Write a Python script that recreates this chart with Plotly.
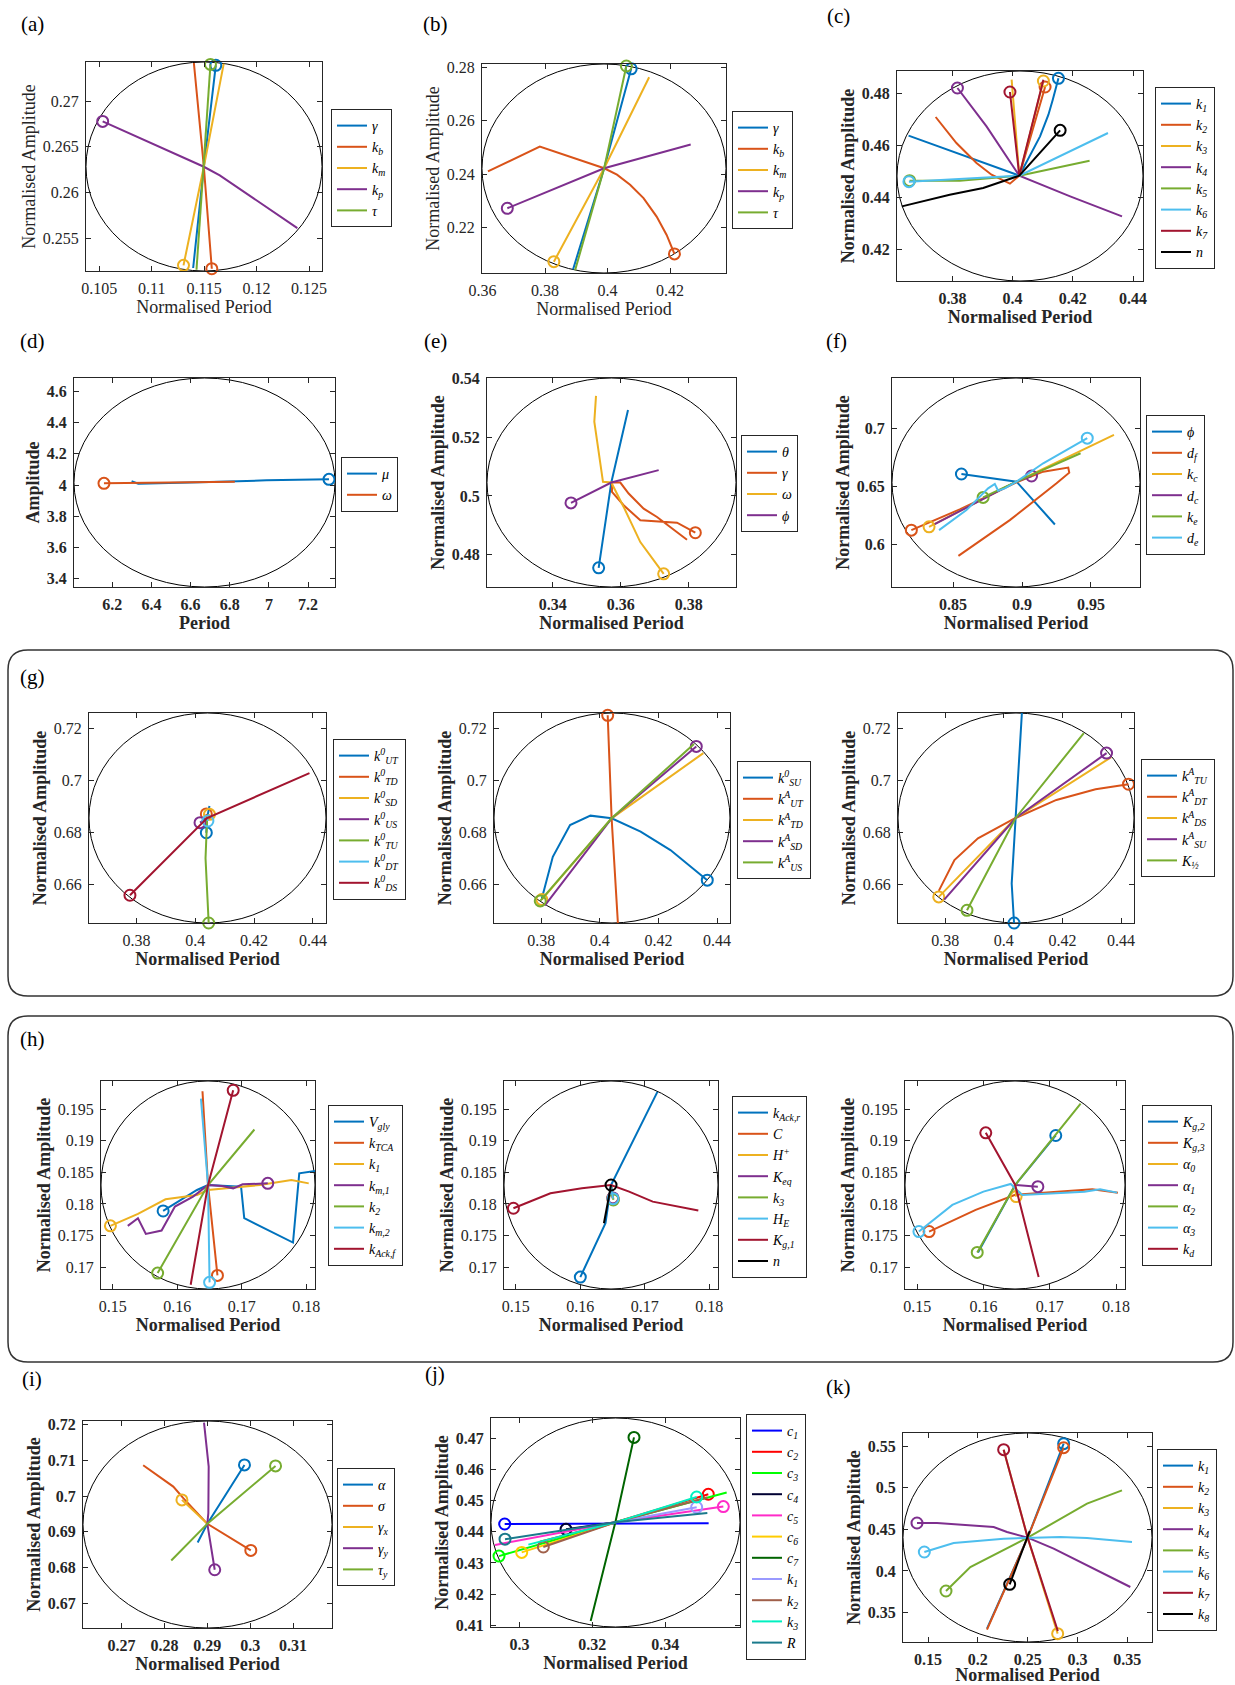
import plotly.graph_objects as go

W, H = 1235, 1685

BLUE, ORANGE, YELLOW, PURPLE = '#0072BD', '#D95319', '#EDB120', '#7E2F8E'
GREEN, LBLUE, DRED, BLACK = '#77AC30', '#4DBEEE', '#A2142F', '#000000'
M8 = [BLUE, ORANGE, YELLOW, PURPLE, GREEN, LBLUE, DRED, BLACK]

# ================= DATA =================
# (a)
A_LABELS = ['γ', 'k<sub>b</sub>', 'k<sub>m</sub>', 'k<sub>p</sub>', 'τ']
A_X = [[0.11395, 0.11497, 0.11611], [0.11402, 0.11497, 0.11573], [0.11687, 0.11497, 0.11303],
       [0.12389, 0.11649, 0.11497, 0.10532], [0.11427, 0.11497, 0.1156]]
A_Y = [[0.25172, 0.2628, 0.27391], [0.27416, 0.2628, 0.25164], [0.27409, 0.2628, 0.25201],
       [0.25609, 0.26186, 0.2628, 0.26777], [0.25153, 0.2628, 0.27401]]
A_XRANGE, A_YRANGE = [0.10373, 0.12624], [0.25139, 0.27427]
A_XTICKS, A_YTICKS = [0.105, 0.11, 0.115, 0.12, 0.125], [0.255, 0.26, 0.265, 0.27]

# (b)
B_LABELS = ['γ', 'k<sub>b</sub>', 'k<sub>m</sub>', 'k<sub>p</sub>', 'τ']
B_X = [[0.38894, 0.3989, 0.40755],
       [0.3617, 0.3783, 0.3989, 0.4030, 0.4072, 0.4115, 0.4157, 0.4189, 0.4214],
       [0.4133, 0.3989, 0.3828], [0.4266, 0.3989, 0.3679], [0.3896, 0.3989, 0.4060]]
B_Y = [[0.2043, 0.2422, 0.27946],
       [0.2410, 0.2503, 0.2422, 0.2398, 0.2360, 0.2310, 0.2241, 0.2172, 0.2101],
       [0.2763, 0.2422, 0.2072], [0.2511, 0.2422, 0.2272], [0.2040, 0.2422, 0.2805]]
B_XRANGE, B_YRANGE = [0.3598, 0.4379], [0.20296, 0.28125]
B_XTICKS, B_YTICKS = [0.36, 0.38, 0.4, 0.42], [0.22, 0.24, 0.26, 0.28]

# (c)
C_LABELS = ['k<sub>1</sub>', 'k<sub>2</sub>', 'k<sub>3</sub>', 'k<sub>4</sub>', 'k<sub>5</sub>',
            'k<sub>6</sub>', 'k<sub>7</sub>', 'n']
C_X = [[0.36544, 0.40222, 0.40911, 0.41189, 0.41333, 0.41522],
       [0.37444, 0.38133, 0.388, 0.393, 0.39911, 0.40222, 0.41078],
       [0.39967, 0.40222, 0.41022],
       [0.43633, 0.41911, 0.40222, 0.39133, 0.38167],
       [0.42556, 0.40222, 0.38244, 0.36578],
       [0.43167, 0.40222, 0.36556],
       [0.41022, 0.40222, 0.39911],
       [0.36322, 0.37911, 0.39022, 0.40222, 0.41578]]
C_Y = [[0.46359, 0.44821, 0.46333, 0.47167, 0.47744, 0.48564],
       [0.47077, 0.46077, 0.45308, 0.44859, 0.44513, 0.44821, 0.48231],
       [0.48513, 0.44821, 0.48462],
       [0.43256, 0.44026, 0.44821, 0.46718, 0.48192],
       [0.45397, 0.44821, 0.44628, 0.44628],
       [0.46462, 0.44821, 0.4459],
       [0.48513, 0.44821, 0.48038],
       [0.43641, 0.4409, 0.44346, 0.44821, 0.46564]]
C_XRANGE, C_YRANGE = [0.3616, 0.4433], [0.4077, 0.48846]
C_XTICKS, C_YTICKS = [0.38, 0.4, 0.42, 0.44], [0.42, 0.44, 0.46, 0.48]

# (d)
D_LABELS = ['μ', 'ω']
D_X = [[6.2986, 6.333, 6.648, 6.988, 7.307], [6.8259, 6.1575]]
D_Y = [[4.0236, 4.0086, 4.017, 4.030, 4.0364], [4.0214, 4.0107]]
D_XRANGE, D_YRANGE = [6.0044, 7.3378], [3.346, 4.686]
D_XTICKS, D_YTICKS = [6.2, 6.4, 6.6, 6.8, 7, 7.2], [3.4, 3.6, 3.8, 4, 4.2, 4.4, 4.6]

# (e)
E_LABELS = ['θ', 'γ', 'ω', 'ϕ']
E_X = [[0.36216, 0.35873, 0.35725, 0.35353],
       [0.37951, 0.37461, 0.37069, 0.36676, 0.36235, 0.3599, 0.35745, 0.35745, 0.36088,
        0.36578, 0.37118, 0.37657, 0.38196],
       [0.35275, 0.35225, 0.3548, 0.35725, 0.36088, 0.36578, 0.37265],
       [0.37118, 0.35725, 0.34539]]
E_Y = [[0.52931, 0.5122, 0.50456, 0.47548],
       [0.48506, 0.48939, 0.49281, 0.49567, 0.5008, 0.50456, 0.50456, 0.50137, 0.49681,
        0.49167, 0.49133, 0.49087, 0.48745],
       [0.53411, 0.52532, 0.50479, 0.50456, 0.49624, 0.48426, 0.47342],
       [0.50878, 0.50456, 0.4976]]
E_XRANGE, E_YRANGE = [0.32069, 0.39392], [0.46894, 0.5402]
E_XTICKS, E_YTICKS = [0.34, 0.36, 0.38], [0.48, 0.5, 0.52, 0.54]

# (f)
F_LABELS = ['ϕ', 'd<sub>f</sub>', 'k<sub>c</sub>', 'd<sub>c</sub>', 'k<sub>e</sub>', 'd<sub>e</sub>']
F_X = [[0.92385, 0.896, 0.85605],
       [0.85387, 0.89116, 0.92506, 0.93426, 0.93354, 0.91538, 0.896, 0.85484, 0.81973],
       [0.96671, 0.896, 0.83257],
       [0.83668, 0.896, 0.9069],
       [0.94249, 0.896, 0.87179],
       [0.83983, 0.85969, 0.87542, 0.88027, 0.88269, 0.88753, 0.896, 0.91538, 0.94734]]
F_Y = [[0.61753, 0.65431, 0.66092],
       [0.59052, 0.62126, 0.65287, 0.66207, 0.66638, 0.66293, 0.65374, 0.63046, 0.61264],
       [0.69454, 0.65431, 0.61552],
       [0.61782, 0.65431, 0.6592],
       [0.67874, 0.65431, 0.6408],
       [0.61264, 0.62989, 0.64856, 0.6523, 0.64655, 0.64856, 0.65431, 0.67011, 0.69167]]
F_XRANGE, F_YRANGE = [0.80569, 0.98559], [0.5638, 0.74339]
F_XTICKS, F_YTICKS = [0.85, 0.9, 0.95], [0.6, 0.65, 0.7]

# (g) shared axes
G_XRANGE, G_YRANGE = [0.36386, 0.44444], [0.64503, 0.72606]
G_XTICKS, G_YTICKS = [0.38, 0.4, 0.42, 0.44], [0.66, 0.68, 0.7, 0.72]
G1_LABELS = ['k<sup>0</sup><sub>UT</sub>', 'k<sup>0</sup><sub>TD</sub>', 'k<sup>0</sup><sub>SD</sub>',
             'k<sup>0</sup><sub>US</sub>', 'k<sup>0</sup><sub>TU</sub>', 'k<sup>0</sup><sub>DT</sub>',
             'k<sup>0</sup><sub>DS</sub>']
G1_X = [[0.40482, 0.40402, 0.40375], [0.40402, 0.40375], [0.40402, 0.40482], [0.40402, 0.40161],
        [0.40402, 0.40348, 0.40455], [0.40402, 0.40428], [0.43882, 0.40402, 0.37778]]
G1_Y = [[0.69019, 0.68555, 0.67987], [0.68555, 0.6871], [0.68555, 0.68697], [0.68555, 0.68374],
        [0.68555, 0.67, 0.64503], [0.68555, 0.68439], [0.70284, 0.68555, 0.65574]]
G2_LABELS = ['k<sup>0</sup><sub>SU</sub>', 'k<sup>A</sup><sub>UT</sub>', 'k<sup>A</sup><sub>TD</sub>',
             'k<sup>A</sup><sub>SD</sub>', 'k<sup>A</sup><sub>US</sub>']
G2_X = [[0.38019, 0.38394, 0.38983, 0.39679, 0.40402, 0.41392, 0.4241, 0.43668],
        [0.40616, 0.40402, 0.40268], [0.43534, 0.40402, 0.38019],
        [0.38126, 0.40402, 0.43293], [0.43213, 0.40402, 0.37965]]
G2_Y = [[0.65445, 0.67058, 0.68284, 0.68645, 0.68542, 0.68026, 0.67316, 0.66155],
        [0.64503, 0.68542, 0.72516], [0.71058, 0.68542, 0.65406],
        [0.65187, 0.68542, 0.71316], [0.71406, 0.68542, 0.65355]]
G3_LABELS = ['k<sup>A</sup><sub>TU</sub>', 'k<sup>A</sup><sub>DT</sub>', 'k<sup>A</sup><sub>DS</sub>',
             'k<sup>A</sup><sub>SU</sub>', 'K<sub>½</sub>']
G3_X = [[0.40616, 0.40509, 0.40402, 0.40268, 0.40348],
        [0.37778, 0.38313, 0.39116, 0.40402, 0.41794, 0.43133, 0.44257],
        [0.43668, 0.40402, 0.37778], [0.37965, 0.40402, 0.43507], [0.42731, 0.40402, 0.38742]]
G3_Y = [[0.72606, 0.70542, 0.68555, 0.66026, 0.64503],
        [0.65742, 0.66929, 0.67768, 0.68555, 0.69252, 0.69665, 0.69858],
        [0.70903, 0.68555, 0.6551], [0.65406, 0.68555, 0.71058], [0.71832, 0.68555, 0.64994]]

# (h) shared axes
H_XRANGE, H_YRANGE = [0.14817, 0.18134], [0.16653, 0.19947]
H_XTICKS, H_YTICKS = [0.15, 0.16, 0.17, 0.18], [0.17, 0.175, 0.18, 0.185, 0.19, 0.195]
H1_LABELS = ['V<sub>gly</sub>', 'k<sub>TCA</sub>', 'k<sub>1</sub>', 'k<sub>m,1</sub>', 'k<sub>2</sub>',
             'k<sub>m,2</sub>', 'k<sub>Ack,f</sub>']
H1_X = [[0.18134, 0.1789, 0.17793, 0.17037, 0.16988, 0.16476, 0.16305, 0.15878, 0.1578],
        [0.1639, 0.16476, 0.16622],
        [0.18037, 0.17768, 0.1728, 0.16476, 0.16305, 0.15817, 0.1539, 0.14963],
        [0.15232, 0.1539, 0.15512, 0.15756, 0.15963, 0.16244, 0.16476, 0.16695, 0.16866, 0.17012, 0.17402],
        [0.17195, 0.16476, 0.15695], [0.16366, 0.16476, 0.165], [0.16207, 0.16476, 0.16866]]
H1_Y = [[0.18521, 0.18484, 0.17389, 0.17774, 0.18274, 0.183, 0.18221, 0.17958, 0.17889],
        [0.19784, 0.183, 0.16868],
        [0.18326, 0.18379, 0.183, 0.18221, 0.18142, 0.18074, 0.17842, 0.17653],
        [0.17653, 0.17774, 0.17526, 0.17579, 0.17958, 0.18116, 0.183, 0.18284, 0.18247, 0.18311, 0.18326],
        [0.19179, 0.183, 0.16905], [0.19668, 0.183, 0.16758], [0.16721, 0.183, 0.198]]
H2_LABELS = ['k<sub>Ack,r</sub>', 'C', 'H<sup>+</sup>', 'K<sub>eq</sub>', 'k<sub>3</sub>', 'H<sub>E</sub>',
             'K<sub>g,1</sub>', 'n']
H2_X = [[0.17195, 0.16476, 0.1639, 0.16], [0.16476, 0.165], [0.16476, 0.16512], [0.16476, 0.16506],
        [0.16476, 0.16512], [0.16476, 0.16506],
        [0.17829, 0.17122, 0.16756, 0.16476, 0.16024, 0.15537, 0.14963], [0.16366, 0.16476]]
H2_Y = [[0.19774, 0.183, 0.17695, 0.16842], [0.183, 0.18089], [0.183, 0.18079], [0.183, 0.18095],
        [0.183, 0.18063], [0.183, 0.18084],
        [0.17895, 0.18037, 0.18195, 0.183, 0.18247, 0.18168, 0.17932], [0.17695, 0.183]]
H3_LABELS = ['K<sub>g,2</sub>', 'K<sub>g,3</sub>', 'α<sub>0</sub>', 'α<sub>1</sub>', 'α<sub>2</sub>',
             'α<sub>3</sub>', 'k<sub>d</sub>']
H3_X = [[0.15918, 0.16478, 0.1709],
        [0.18027, 0.17641, 0.16586, 0.16469, 0.15883, 0.1518],
        [0.16478, 0.16492], [0.16478, 0.1682], [0.17465, 0.16478, 0.15906],
        [0.18016, 0.17758, 0.17524, 0.16586, 0.1641, 0.16, 0.15531, 0.15027],
        [0.16832, 0.16478, 0.16035]]
H3_Y = [[0.17232, 0.183, 0.19084],
        [0.18179, 0.18232, 0.18153, 0.18142, 0.17905, 0.17563],
        [0.183, 0.18116], [0.183, 0.18274], [0.19589, 0.183, 0.17232],
        [0.18179, 0.18232, 0.18195, 0.18142, 0.18316, 0.18195, 0.17984, 0.17563],
        [0.16842, 0.183, 0.19126]]

# (i)
I_LABELS = ['α', 'σ', 'γ<sub>x</sub>', 'γ<sub>y</sub>', 'τ<sub>y</sub>']
I_X = [[0.28774, 0.29, 0.29866], [0.27503, 0.28205, 0.28439, 0.29, 0.30014], [0.29, 0.28407],
       [0.28922, 0.29031, 0.29023, 0.29, 0.29172], [0.28158, 0.29, 0.30591]]
I_Y = [[0.68703, 0.69223, 0.70868], [0.70859, 0.70264, 0.69939, 0.69223, 0.6848], [0.69223, 0.69892],
       [0.72048, 0.70822, 0.6952, 0.69223, 0.67941], [0.68201, 0.69223, 0.7084]]
I_XRANGE, I_YRANGE = [0.26099, 0.31908], [0.66314, 0.72095]
I_XTICKS, I_YTICKS = [0.27, 0.28, 0.29, 0.3, 0.31], [0.67, 0.68, 0.69, 0.7, 0.71, 0.72]

# (j)
J_LABELS = ['c<sub>1</sub>', 'c<sub>2</sub>', 'c<sub>3</sub>', 'c<sub>4</sub>', 'c<sub>5</sub>',
            'c<sub>6</sub>', 'c<sub>7</sub>', 'k<sub>1</sub>', 'k<sub>2</sub>', 'k<sub>3</sub>', 'R']
J_X = [[0.35194, 0.32632, 0.29593], [0.30563, 0.32632, 0.35185], [0.35689, 0.32632, 0.29437],
       [0.32632, 0.31277], [0.29327, 0.32632, 0.35597], [0.32632, 0.3006],
       [0.31954, 0.32632, 0.33144], [0.32632, 0.34865], [0.35158, 0.32632, 0.30654],
       [0.30243, 0.32632, 0.34865], [0.35158, 0.32632, 0.29602]]
J_Y = [[0.44268, 0.44268, 0.44246], [0.43679, 0.443, 0.452], [0.45254, 0.443, 0.43218],
       [0.443, 0.44075], [0.43575, 0.443, 0.44804], [0.443, 0.43336],
       [0.41139, 0.443, 0.47021], [0.443, 0.44782], [0.45097, 0.443, 0.43511],
       [0.43586, 0.443, 0.45111], [0.44596, 0.443, 0.43761]]
J_XRANGE, J_YRANGE = [0.29217, 0.36055], [0.40946, 0.47643]
J_XTICKS, J_YTICKS = [0.3, 0.32, 0.34], [0.41, 0.42, 0.43, 0.44, 0.45, 0.46, 0.47]

# (k)
K_LABELS = ['k<sub>1</sub>', 'k<sub>2</sub>', 'k<sub>3</sub>', 'k<sub>4</sub>', 'k<sub>5</sub>',
            'k<sub>6</sub>', 'k<sub>7</sub>', 'k<sub>8</sub>']
K_X = [[0.2092, 0.25, 0.28612], [0.2092, 0.25, 0.28612], [0.22592, 0.25, 0.2801],
       [0.35301, 0.30619, 0.27609, 0.25, 0.22926, 0.21589, 0.19582, 0.17575, 0.15903, 0.13896],
       [0.34465, 0.30953, 0.25, 0.19247, 0.16806],
       [0.35468, 0.30953, 0.28278, 0.25, 0.22592, 0.17575, 0.14632],
       [0.28027, 0.25, 0.22592], [0.25201, 0.23194]]
K_Y = [[0.33056, 0.44, 0.553], [0.32936, 0.44, 0.5482], [0.54579, 0.44, 0.32455],
       [0.38066, 0.40872, 0.42675, 0.44, 0.44679, 0.45281, 0.45481, 0.45601, 0.45762, 0.45762],
       [0.49689, 0.48086, 0.44, 0.40471, 0.37585],
       [0.43477, 0.43958, 0.44078, 0.44, 0.43878, 0.43357, 0.42275],
       [0.32776, 0.44, 0.5458], [0.448, 0.38387]]
K_XRANGE, K_YRANGE = [0.12492, 0.37475], [0.31453, 0.56583]
K_XTICKS, K_YTICKS = [0.15, 0.2, 0.25, 0.3, 0.35], [0.35, 0.4, 0.45, 0.5, 0.55]

# ================= STYLE / LAYOUT =================
J_COLORS = ['#0000FF', '#FF0000', '#00FF00', '#000033', '#FF2BC8', '#FFCC00', '#006400',
            '#9999FF', '#A0604A', '#00F0C0', '#1A7A8C']

PERIOD, AMP = 'Normalised Period', 'Normalised Amplitude'
panels = [
    dict(lab=A_LABELS, xs=A_X, ys=A_Y, col=M8, box=(86, 62, 322, 271), xr=A_XRANGE, yr=A_YRANGE,
         xt=A_XTICKS, yt=A_YTICKS, bold=False, xti=PERIOD, yti=AMP, leg=(331, 109)),
    dict(lab=B_LABELS, xs=B_X, ys=B_Y, col=M8, box=(482, 64, 726, 273), xr=B_XRANGE, yr=B_YRANGE,
         xt=B_XTICKS, yt=B_YTICKS, bold=False, xti=PERIOD, yti=AMP, leg=(732, 111)),
    dict(lab=C_LABELS, xs=C_X, ys=C_Y, col=M8, box=(897, 71, 1143, 281), xr=C_XRANGE, yr=C_YRANGE,
         xt=C_XTICKS, yt=C_YTICKS, bold=True, xti=PERIOD, yti=AMP, leg=(1155, 87)),
    dict(lab=D_LABELS, xs=D_X, ys=D_Y, col=M8, box=(74, 378, 335, 587), xr=D_XRANGE, yr=D_YRANGE,
         xt=D_XTICKS, yt=D_YTICKS, bold=True, xti='Period', yti='Amplitude', leg=(341, 457)),
    dict(lab=E_LABELS, xs=E_X, ys=E_Y, col=M8, box=(487, 378, 736, 587), xr=E_XRANGE, yr=E_YRANGE,
         xt=E_XTICKS, yt=E_YTICKS, bold=True, xti=PERIOD, yti=AMP, leg=(741, 435)),
    dict(lab=F_LABELS, xs=F_X, ys=F_Y, col=M8, box=(892, 378, 1140, 587), xr=F_XRANGE, yr=F_YRANGE,
         xt=F_XTICKS, yt=F_YTICKS, bold=True, xti=PERIOD, yti=AMP, leg=(1146, 415)),
    dict(lab=G1_LABELS, xs=G1_X, ys=G1_Y, col=M8, box=(89, 713, 326, 923), xr=G_XRANGE, yr=G_YRANGE,
         xt=G_XTICKS, yt=G_YTICKS, bold='title', xti=PERIOD, yti=AMP, leg=(333, 739)),
    dict(lab=G2_LABELS, xs=G2_X, ys=G2_Y, col=M8, box=(494, 713, 730, 923), xr=G_XRANGE, yr=G_YRANGE,
         xt=G_XTICKS, yt=G_YTICKS, bold='title', xti=PERIOD, yti=AMP, leg=(737, 761)),
    dict(lab=G3_LABELS, xs=G3_X, ys=G3_Y, col=M8, box=(898, 713, 1134, 923), xr=G_XRANGE, yr=G_YRANGE,
         xt=G_XTICKS, yt=G_YTICKS, bold='title', xti=PERIOD, yti=AMP, leg=(1141, 759)),
    dict(lab=H1_LABELS, xs=H1_X, ys=H1_Y, col=M8, box=(101, 1081, 315, 1289), xr=H_XRANGE, yr=H_YRANGE,
         xt=H_XTICKS, yt=H_YTICKS, bold='title', xti=PERIOD, yti=AMP, leg=(328, 1105)),
    dict(lab=H2_LABELS, xs=H2_X, ys=H2_Y, col=M8, box=(504, 1081, 718, 1289), xr=H_XRANGE, yr=H_YRANGE,
         xt=H_XTICKS, yt=H_YTICKS, bold='title', xti=PERIOD, yti=AMP, leg=(732, 1096)),
    dict(lab=H3_LABELS, xs=H3_X, ys=H3_Y, col=M8, box=(905, 1081, 1125, 1289), xr=H_XRANGE, yr=H_YRANGE,
         xt=H_XTICKS, yt=H_YTICKS, bold='title', xti=PERIOD, yti=AMP, leg=(1142, 1105)),
    dict(lab=I_LABELS, xs=I_X, ys=I_Y, col=M8, box=(83, 1421, 332, 1628), xr=I_XRANGE, yr=I_YRANGE,
         xt=I_XTICKS, yt=I_YTICKS, bold=True, xti=PERIOD, yti=AMP, leg=(337, 1468)),
    dict(lab=J_LABELS, xs=J_X, ys=J_Y, col=J_COLORS, box=(491, 1418, 740, 1627), xr=J_XRANGE, yr=J_YRANGE,
         xt=J_XTICKS, yt=J_YTICKS, bold=True, xti=PERIOD, yti=AMP, leg=(746, 1414)),
    dict(lab=K_LABELS, xs=K_X, ys=K_Y, col=M8, box=(903, 1433, 1152, 1642), xr=K_XRANGE, yr=K_YRANGE,
         xt=K_XTICKS, yt=K_YTICKS, bold=True, xti=PERIOD, yti=AMP, leg=(1157, 1449)),
]

PANEL_TAGS = ['(a)', '(b)', '(c)', '(d)', '(e)', '(f)', '(g)', '(h)', '(i)', '(j)', '(k)']
TAG_POS = [(32, 24), (435, 24), (838, 16), (32, 341), (435, 341), (836, 341),
           (32, 677), (32, 1039), (32, 1379), (435, 1374), (838, 1387)]

FONT = 'Liberation Serif'
AXC = '#262626'


def px(x):
    return x / W


def py(y):
    return 1 - y / H


fig = go.Figure()
layout = dict(width=W, height=H, autosize=False,
              margin=dict(l=0, r=0, t=0, b=0, pad=0, autoexpand=False),
              paper_bgcolor='white', plot_bgcolor='white', showlegend=True, shapes=[], annotations=[])

for i, p in enumerate(panels):
    n = i + 1
    sfx = '' if n == 1 else str(n)
    xa, ya = 'x' + sfx, 'y' + sfx
    legname = 'legend' + sfx
    tickw = 'bold' if p['bold'] is True else 'normal'
    titw = 'normal' if p['bold'] is False else 'bold'
    l, t, r, b = p['box']
    common = dict(showline=True, linecolor=AXC, linewidth=1, mirror='ticks', ticks='inside',
                  ticklen=5, tickcolor=AXC, showgrid=False, zeroline=False, automargin=False,
                  tickfont=dict(family=FONT, size=16, color=AXC, weight=tickw))
    layout['xaxis' + sfx] = dict(common, domain=[px(l), px(r)], range=p['xr'], anchor=ya,
                                 tickmode='array', tickvals=p['xt'], ticktext=[f'{v:g}' for v in p['xt']],
                                 ticklabelstandoff=3,
                                 title=dict(text=p['xti'], standoff=4,
                                            font=dict(family=FONT, size=18, color=AXC, weight=titw)))
    layout['yaxis' + sfx] = dict(common, domain=[py(b), py(t)], range=p['yr'], anchor=xa,
                                 tickmode='array', tickvals=p['yt'], ticktext=[f'{v:g}' for v in p['yt']],
                                 ticklabelstandoff=3,
                                 title=dict(text=p['yti'], standoff=2,
                                            font=dict(family=FONT, size=18, color=AXC, weight=titw)))
    layout[legname] = dict(x=px(p['leg'][0]), y=py(p['leg'][1]), xanchor='left', yanchor='top',
                           bordercolor=AXC, borderwidth=1, bgcolor='white', itemwidth=30,
                           tracegroupgap=0, font=dict(family=FONT, size=14, color='black'))
    # bounding ellipse of the panel
    layout['shapes'].append(dict(type='circle', xref=xa + ' domain', yref=ya + ' domain',
                                 x0=0, x1=1, y0=0, y1=1, line=dict(color='black', width=1),
                                 layer='below'))
    for lab, xs, ys, c in zip(p['lab'], p['xs'], p['ys'], p['col']):
        fig.add_trace(go.Scatter(x=xs, y=ys, mode='lines', name='<i>' + lab + '</i>',
                                 line=dict(color=c, width=2), xaxis=xa, yaxis=ya, legend=legname))
        fig.add_trace(go.Scatter(x=[xs[-1]], y=[ys[-1]], mode='markers', showlegend=False,
                                 marker=dict(symbol='circle-open', size=11, color=c, line=dict(width=2)),
                                 cliponaxis=False, xaxis=xa, yaxis=ya, legend=legname))

for tag, (tx, ty) in zip(PANEL_TAGS, TAG_POS):
    layout['annotations'].append(dict(text=tag, x=px(tx), y=py(ty), xref='paper', yref='paper',
                                      showarrow=False, xanchor='center', yanchor='middle',
                                      font=dict(family=FONT, size=21, color='black')))


def rounded(l, t, r, b, rad=20):
    rx, ry = rad / W, rad / H
    L, R, T, B = px(l), px(r), py(t), py(b)
    return (f'M {L+rx},{T} L {R-rx},{T} Q {R},{T} {R},{T-ry} L {R},{B+ry} Q {R},{B} {R-rx},{B} '
            f'L {L+rx},{B} Q {L},{B} {L},{B+ry} L {L},{T-ry} Q {L},{T} {L+rx},{T} Z')


for box in [(8, 650, 1233, 996), (8, 1016, 1233, 1362)]:
    layout['shapes'].append(dict(type='path', xref='paper', yref='paper', path=rounded(*box),
                                 line=dict(color='#333333', width=1.5), layer='below'))

fig.update_layout(**layout)
fig.write_html('out.html', config={'displayModeBar': False},
               post_script="document.body.style.margin='0';document.body.style.padding='0';"
                           "document.documentElement.style.overflow='hidden';")
